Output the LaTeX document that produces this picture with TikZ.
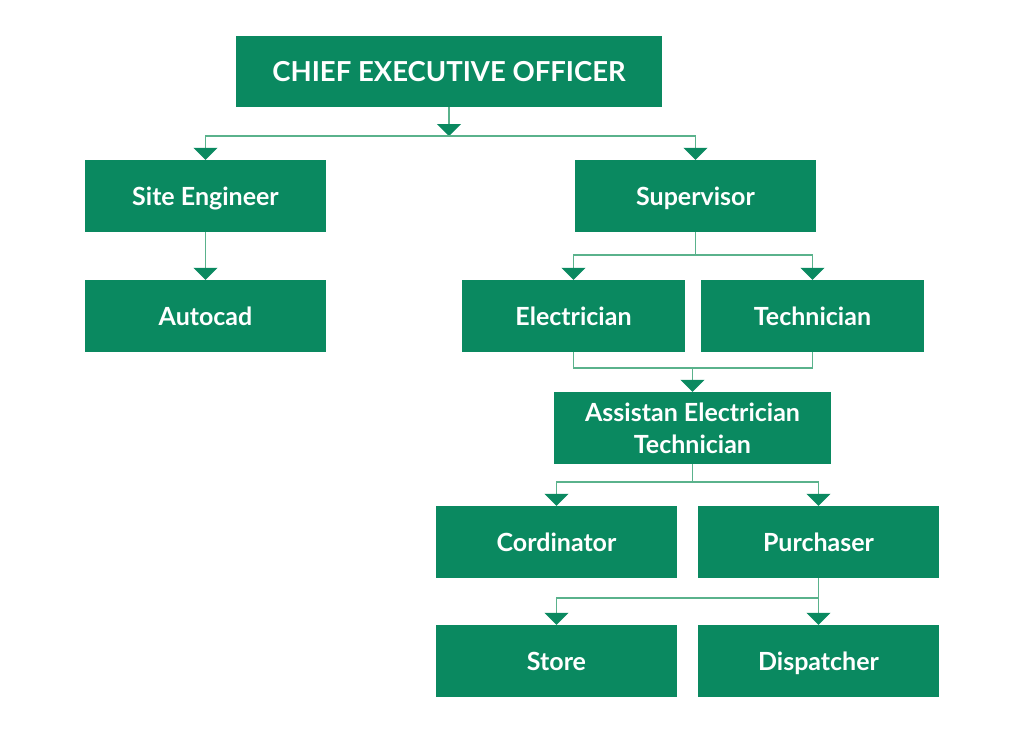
\documentclass[tikz,border=0pt]{standalone}
\usepackage{fontspec}
\setmainfont{Lato}
\usepackage{tikz}
\usetikzlibrary{arrows.meta}
\definecolor{boxgreen}{RGB}{10,137,96}
\definecolor{linegreen}{RGB}{90,178,140}
\tikzset{
  orgbox/.style={fill=boxgreen, text=white, inner sep=0pt, minimum width=241pt,
    minimum height=72pt, align=center, font=\fontsize{25}{32}\selectfont\bfseries},
  oneline/.style={text height=23pt, text depth=5pt},
  link/.style={draw=linegreen, line width=1.3pt},
  tip/.style={-{Triangle[width=24pt,length=12pt,color=boxgreen]}}
}

\begin{document}
\begin{tikzpicture}[x=1pt,y=-1pt]
    \useasboundingbox (0,0) rectangle (1024,732);
    % boxes
    \node[orgbox, minimum width=426pt, minimum height=71pt, text height=25pt, text depth=5pt,
          font=\fontsize{27.5}{32}\selectfont\bfseries] (ceo) at (449,71.5) {CHIEF EXECUTIVE OFFICER};
    \node[orgbox, oneline] (site) at (205.5,196) {Site Engineer};
    \node[orgbox, oneline] (superv) at (695.5,196) {Supervisor};
    \node[orgbox, oneline] (autocad) at (205.5,316) {Autocad};
    \node[orgbox, oneline, minimum width=223pt] (elec) at (573.5,316) {Electrician};
    \node[orgbox, oneline, minimum width=223pt] (tech) at (812.5,316) {Technician};
    \node[orgbox, minimum width=277pt] (asst) at (692.5,428) {Assistan Electrician\\Technician};
    \node[orgbox, oneline] (cord) at (556.5,542) {Cordinator};
    \node[orgbox, oneline] (purch) at (818.5,542) {Purchaser};
    \node[orgbox, oneline] (store) at (556.5,661) {Store};
    \node[orgbox, oneline] (disp) at (818.5,661) {Dispatcher};
    % connectors
    \coordinate (ceobar) at (449,136);
    \draw[link,tip] (ceo.south) -- (ceobar);
    \draw[link,tip] (ceobar) -| (site.north);
    \draw[link,tip] (ceobar) -| (superv.north);
    \draw[link,tip] (site.south) -- (autocad.north);
    \coordinate (supbar) at (695.5,255);
    \draw[link] (superv.south) -- (supbar);
    \draw[link,tip] (supbar) -| (elec.north);
    \draw[link,tip] (supbar) -| (tech.north);
    \coordinate (mergebar) at (692.5,368);
    \draw[link] (elec.south) |- (mergebar) -| (tech.south);
    \draw[link,tip] (mergebar) -- (asst.north);
    \coordinate (asstbar) at (692.5,482);
    \draw[link] (asst.south) -- (asstbar);
    \draw[link,tip] (asstbar) -| (cord.north);
    \draw[link,tip] (asstbar) -| (purch.north);
    \coordinate (purchbar) at (818.5,598);
    \draw[link,tip] (purch.south) -- (disp.north);
    \draw[link,tip] (purchbar) -| (store.north);
\end{tikzpicture}
\end{document}
